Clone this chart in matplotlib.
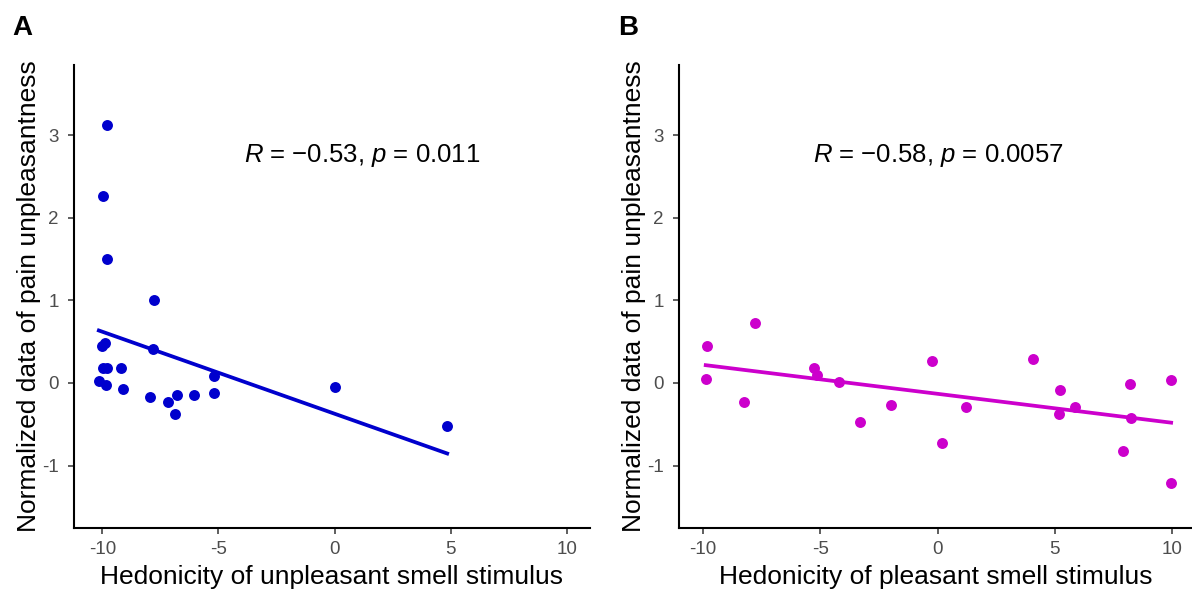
import matplotlib
matplotlib.use('Agg')
import matplotlib.pyplot as plt
import numpy as np

plt.rcParams['font.family'] = ['Liberation Sans', 'DejaVu Sans']
plt.rcParams['mathtext.fontset'] = 'custom'
plt.rcParams['mathtext.rm'] = 'Liberation Sans'
plt.rcParams['mathtext.it'] = 'Liberation Sans:italic'

# panel A - unpleasant smell
unpleasant_x = [-9.78, -9.97, -9.80, -7.78, -10.02, -9.88, -7.82, -9.97, -9.80, -9.19,
                -10.15, -9.83, -9.11, -5.18, -7.94, -7.17, -6.79, -6.85, -6.07, -5.17,
                0.0, 4.85]
unpleasant_y = [3.12, 2.26, 1.50, 1.00, 0.45, 0.48, 0.41, 0.18, 0.18, 0.18,
                0.02, -0.02, -0.07, 0.09, -0.17, -0.23, -0.15, -0.37, -0.14, -0.12,
                -0.05, -0.52]

# panel B - pleasant smell
pleasant_x = [-9.85, -9.89, -7.78, -8.26, -5.29, -5.16, -4.22, -3.31, -2.0, -0.26,
              0.20, 1.19, 4.08, 5.20, 5.16, 5.86, 8.19, 8.23, 7.89, 9.96, 9.96]
pleasant_y = [0.45, 0.05, 0.72, -0.23, 0.18, 0.10, 0.01, -0.47, -0.27, 0.27,
              -0.73, -0.29, 0.29, -0.09, -0.38, -0.29, -0.01, -0.42, -0.82, 0.03, -1.21]

stats_text = [r'$\it{R}$ = $-$0.53, $\it{p}$ = 0.011', r'$\it{R}$ = $-$0.58, $\it{p}$ = 0.0057']
xlabels = ['Hedonicity of unpleasant smell stimulus', 'Hedonicity of pleasant smell stimulus']
ylabel = 'Normalized data of pain unpleasantness'
colors = ['#0000CD', '#CC00CC']

W, H = 1192, 593
fig = plt.figure(figsize=(W / 100, H / 100), dpi=100)
axA = fig.add_axes([74 / W, (H - 528.3) / H, 516 / W, (528.3 - 64.6) / H])
axB = fig.add_axes([679 / W, (H - 528.3) / H, 513 / W, (528.3 - 64.6) / H])

panels = [
    (axA, unpleasant_x, unpleasant_y, (-11.22, 11.0), 1.2),
    (axB, pleasant_x, pleasant_y, (-11.03, 10.85), 0.0),
]

for i, (ax, xs, ys, xlim, tx) in enumerate(panels):
    xs = np.array(xs)
    ys = np.array(ys)
    ax.scatter(xs, ys, s=62, color=colors[i], linewidths=0, zorder=3)
    k, b = np.polyfit(xs, ys, 1)
    xx = np.array([xs.min(), xs.max()])
    ax.plot(xx, k * xx + b, color=colors[i], lw=2.7, zorder=2)
    ax.set_xlim(*xlim)
    ax.set_ylim(-1.76, 3.855)
    ax.set_xticks([-10, -5, 0, 5, 10])
    ax.set_xticklabels(['-10', '-5', '0', '5', '10'])
    ax.set_yticks([-1, 0, 1, 2, 3])
    ax.set_yticklabels(['-1', '0', '1', '2', '3'])
    for s in ['top', 'right']:
        ax.spines[s].set_visible(False)
    for s in ['left', 'bottom']:
        ax.spines[s].set_linewidth(1.5)
        ax.spines[s].set_color('black')
    ax.tick_params(axis='both', length=4, width=1.1, color='#333333',
                   labelcolor='#4D4D4D', labelsize=13.5)
    ax.tick_params(axis='x', pad=5)
    ax.tick_params(axis='y', pad=7)
    ax.set_xlabel(xlabels[i], fontsize=19, color='black', labelpad=5)
    ax.set_ylabel(ylabel, fontsize=19, color='black', labelpad=1)
    ax.text(tx, 2.76, stats_text[i], fontsize=18.5, ha='center', va='center')
    ax.patch.set_alpha(0)

fig.text(22 / W, 1 - 28 / H, 'A', fontsize=20, fontweight='bold', ha='center', va='center')
fig.text(628 / W, 1 - 28 / H, 'B', fontsize=20, fontweight='bold', ha='center', va='center')

fig.savefig('out.png', dpi=100, facecolor='white')
